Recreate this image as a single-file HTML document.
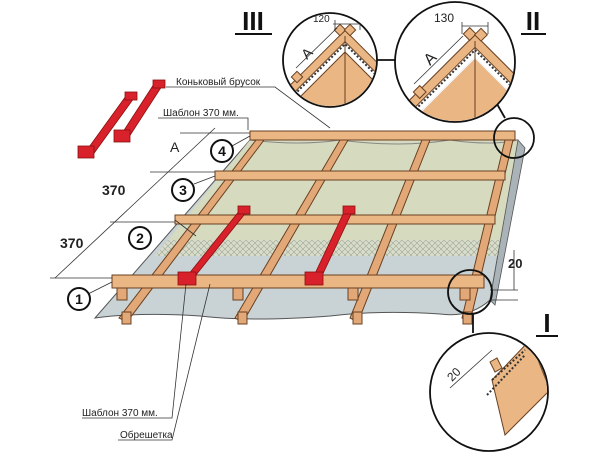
<!DOCTYPE html>
<html><head><meta charset="utf-8"><style>
html,body{margin:0;padding:0;background:#fff;}
svg{display:block;}
text{font-family:"Liberation Sans",sans-serif;}
</style></head><body>
<svg width="600" height="458" viewBox="0 0 600 458" xmlns="http://www.w3.org/2000/svg">
<defs>
<pattern id="hatch" width="6" height="6" patternUnits="userSpaceOnUse">
<rect width="6" height="6" fill="#d9dcc8"/>
<path d="M0,0L6,6M6,0L0,6" stroke="#9aa89a" stroke-width="0.6"/>
</pattern>
</defs>
<!-- membrane -->
<path d="M250,140 L518,140 L490,300 Q470,318 440,314 Q380,310 330,316 Q250,322 200,316 Q140,312 95,318 Z" fill="#c9d3d6" stroke="#555" stroke-width="1"/>
<path d="M250,140 L518,140 L502,240 L168,240 Z" fill="#d6dbbf"/>
<path d="M168,240 L502,240 L499,256 L155,256 Z" fill="url(#hatch)"/>
<path d="M250,140 Q300,146 340,140 Q400,148 450,140 Q490,146 518,140" fill="none" stroke="#888" stroke-width="1"/>
<path d="M518,140 L525,148 L495,305 L490,300 Z" fill="#aab4b8" stroke="#555" stroke-width="0.8"/>
<!-- rafters -->
<g fill="#e3a878" stroke="#6a4020" stroke-width="1">
<path d="M256,140 L264,140 L127,322 L119,318 Z"/>
<path d="M340,140 L348,140 L243,322 L235,318 Z"/>
<path d="M422,140 L430,140 L358,322 L350,318 Z"/>
<path d="M505,140 L513,140 L470,322 L462,318 Z"/>
</g>
<g fill="#e3a878" stroke="#6a4020" stroke-width="1">
<rect x="117" y="288" width="10" height="12"/><rect x="233" y="288" width="10" height="12"/>
<rect x="348" y="288" width="10" height="12"/><rect x="460" y="288" width="10" height="12"/>
<rect x="122" y="312" width="9" height="12"/><rect x="238" y="312" width="9" height="12"/>
<rect x="353" y="312" width="9" height="12"/><rect x="463" y="312" width="9" height="12"/>
</g>
<!-- battens -->
<g fill="#eab684" stroke="#6a4020" stroke-width="1">
<rect x="250" y="131" width="265" height="9"/>
<rect x="215" y="171" width="290" height="9"/>
<rect x="175" y="215" width="320" height="9"/>
<rect x="112" y="275" width="372" height="13"/>
</g>
<!-- red templates -->
<g fill="#d8212a" stroke="#8a1010" stroke-width="0.8">
<path d="M240,210 L248,210 L192,280 L184,280 Z"/>
<rect x="178" y="272" width="18" height="13"/>
<rect x="238" y="206" width="12" height="8"/>
<path d="M345,210 L353,210 L320,280 L312,280 Z"/>
<rect x="305" y="272" width="18" height="13"/>
<rect x="343" y="206" width="12" height="8"/>
<path d="M154,84 L162,86 L127,140 L119,138 Z"/>
<rect x="114" y="130" width="16" height="12"/>
<rect x="153" y="80" width="12" height="8"/>
<path d="M126,96 L134,98 L92,156 L84,154 Z"/>
<rect x="78" y="146" width="16" height="12"/>
<rect x="125" y="92" width="12" height="8"/>
</g>
<!-- dimension lines -->
<g stroke="#333" stroke-width="0.8" fill="none">
<path d="M55,278 L215,128"/>
<path d="M50,278 L112,278 M110,222 L175,222 M150,172 L215,172 M180,133 L250,133"/>
<path d="M166,87 L275,87 L330,128"/>
<path d="M158,118 L248,118 L248,130"/>
<path d="M82,418 L172,418 L186,284"/>
<path d="M118,440 L172,440 L210,284"/>
<path d="M88,294 L112,282 M196,236 L175,220 M232,146 L250,136 M194,184 L215,176"/>
<path d="M514,250 L514,290 M490,290 L518,290 M490,300 L518,300"/>
</g>
<text x="60" y="248" font-size="14" font-weight="bold" fill="#222">370</text>
<text x="102" y="195" font-size="14" font-weight="bold" fill="#222">370</text>
<text x="170" y="152" font-size="14" fill="#222">A</text>
<text x="508" y="268" font-size="13" font-weight="bold" fill="#222">20</text>
<text x="176" y="85" font-size="10" fill="#222">Коньковый брусок</text>
<text x="163" y="116" font-size="10" fill="#222">Шаблон 370 мм.</text>
<text x="82" y="416" font-size="10" fill="#222">Шаблон 370 мм.</text>
<text x="120" y="438" font-size="10" fill="#222">Обрешетка</text>
<!-- number circles -->
<g fill="#fff" stroke="#111" stroke-width="2">
<circle cx="222" cy="151" r="11"/><circle cx="183" cy="190" r="11"/>
<circle cx="140" cy="238" r="11"/><circle cx="79" cy="299" r="11"/>
</g>
<g font-size="14" font-weight="bold" text-anchor="middle" fill="#111">
<text x="222" y="156">4</text><text x="183" y="195">3</text>
<text x="140" y="243">2</text><text x="79" y="304">1</text>
</g>
<!-- small circles & connectors -->
<g fill="none" stroke="#111" stroke-width="1.8">
<circle cx="514" cy="138" r="20"/>
<circle cx="470" cy="292" r="22"/>
<path d="M377,60 L395,60 M497,104 L505,118 M473,314 L473,333"/>
</g>
<!-- III -->
<g>
<circle cx="330" cy="60" r="47" fill="#fff" stroke="#111" stroke-width="1.8"/>
<clipPath id="c3"><circle cx="330" cy="60" r="46"/></clipPath>
<g clip-path="url(#c3)">
<path d="M345,52 L420,127 L270,127 Z" fill="#eab684" stroke="#6a4020"/>
<polyline points="272,117 345,44 418,117" fill="none" stroke="#fff" stroke-width="6"/>
<polyline points="272,117 345,44 418,117" fill="none" stroke="#333" stroke-width="2" stroke-dasharray="2,2"/>
<polyline points="272,109 345,36 418,109" fill="none" stroke="#6a4020" stroke-width="9"/>
<polyline points="272,109 345,36 418,109" fill="none" stroke="#eab684" stroke-width="7"/>
<path d="M345,36 L345,120" stroke="#6a4020"/>
<rect x="293" y="73" width="8" height="8" fill="#eab684" stroke="#6a4020" transform="rotate(-45 297 77)"/>
<rect x="336" y="26" width="8" height="8" fill="#eab684" stroke="#6a4020" transform="rotate(-45 340 30)"/>
<rect x="346" y="26" width="8" height="8" fill="#eab684" stroke="#6a4020" transform="rotate(45 350 30)"/>
<path d="M296,68 L337,28 M333,24 L360,24 M335,20 L335,30 M360,20 L360,30" stroke="#333" stroke-width="0.8"/>
</g>
<text x="313" y="22" font-size="10" fill="#222">120</text>
<text x="307" y="60" font-size="14" fill="#222" transform="rotate(-45 307 60)">A</text>
</g>
<!-- II -->
<g>
<circle cx="455" cy="62" r="60" fill="#fff" stroke="#111" stroke-width="1.8"/>
<clipPath id="c2"><circle cx="455" cy="62" r="59"/></clipPath>
<g clip-path="url(#c2)">
<path d="M475,58 L560,143 L390,143 Z" fill="#eab684" stroke="#6a4020"/>
<polyline points="392,141 475,58 558,141" fill="none" stroke="#fff" stroke-width="1"/>
<polyline points="393,132 475,50 557,132" fill="none" stroke="#fff" stroke-width="6"/>
<polyline points="393,132 475,50 557,132" fill="none" stroke="#333" stroke-width="2" stroke-dasharray="2,2"/>
<polyline points="393,123 475,41 557,123" fill="none" stroke="#6a4020" stroke-width="10"/>
<polyline points="393,123 475,41 557,123" fill="none" stroke="#eab684" stroke-width="8"/>
<path d="M475,41 L475,140" stroke="#6a4020"/>
<rect x="415" y="88" width="9" height="9" fill="#eab684" stroke="#6a4020" transform="rotate(-45 419 92)"/>
<rect x="465" y="30" width="9" height="9" fill="#eab684" stroke="#6a4020" transform="rotate(-45 469 34)"/>
<rect x="477" y="30" width="9" height="9" fill="#eab684" stroke="#6a4020" transform="rotate(45 481 34)"/>
<path d="M414,84 L463,36 M462,26 L488,26 M462,22 L462,34 M488,22 L488,34" stroke="#333" stroke-width="0.8"/>
</g>
<text x="434" y="22" font-size="12" fill="#222">130</text>
<text x="430" y="66" font-size="16" fill="#222" transform="rotate(-45 430 66)">A</text>
</g>
<!-- I detail -->
<g>
<circle cx="489" cy="392" r="59" fill="#fff" stroke="#111" stroke-width="1.8"/>
<clipPath id="c1"><circle cx="489" cy="392" r="58"/></clipPath>
<g clip-path="url(#c1)">
<path d="M492,380 L530,340 L550,390 L505,435 Z" fill="#eab684" stroke="#6a4020"/>
<path d="M492,380 L525,350" stroke="#333" stroke-width="2" stroke-dasharray="2,2"/>
<path d="M487,395 L525,355" stroke="#333" stroke-width="2" stroke-dasharray="2,2"/>
<path d="M490,362 L497,358 L502,368 L495,372 Z" fill="#eab684" stroke="#6a4020"/>
<path d="M450,388 L492,350" stroke="#333" stroke-width="0.8"/>
</g>
<text x="452" y="382" font-size="12" fill="#222" transform="rotate(-45 452 382)">20</text>
</g>
<!-- roman numerals -->
<g font-family="Liberation Serif,serif" font-weight="bold" font-size="26" fill="#111" text-anchor="middle">
<text x="253" y="30">III</text><text x="533" y="30">II</text><text x="547" y="332">I</text>
</g>
<g stroke="#111" stroke-width="2"><path d="M235,34 L272,34 M521,34 L546,34 M536,336 L558,336"/></g>
</svg>
</body></html>
